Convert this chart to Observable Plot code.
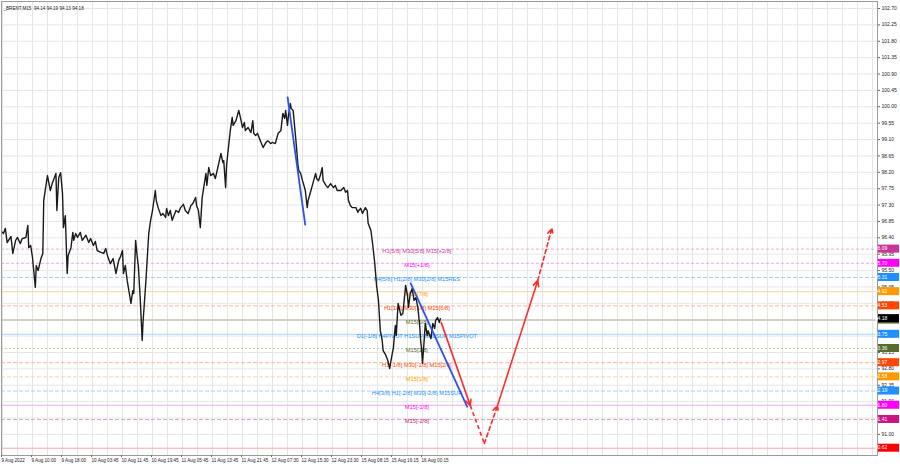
<!DOCTYPE html>
<html><head><meta charset="utf-8">
<script src="https://cdn.jsdelivr.net/npm/d3@7"></script>
<script src="https://cdn.jsdelivr.net/npm/@observablehq/plot@0.6"></script>
<style>
body{margin:0;background:#fff;}
#chart{width:900px;height:468px;}
</style>
</head><body><div id="chart"></div>
<script>
// ---------- data ----------
const title = "_BRENT,M15  94.14 94.19 94.13 94.18";
const lastPrice = 94.18;

// price path (M15 bar index, price)
const bars = [0,1,3,5,9,11,14,16,19,21,25,27,28,30,32,35,36,38,41,43,44,46,48,49,51,53,57,58,60,62,64,65,67,69,70,73,75,76,78,80,83,85,89,92,94,97,99,101,105,108,110,112,115,118,121,124,126,128,129,131,133,137,139,140,142,143,145,147,149,150,153,156,158,160,163,164,166,169,171,174,175,177,179,181,185,188,190,193,195,198,201,203,206,207,209,211,213,217,218,220,222,225,227,229,233,235,236,238,239,241,243,245,246,249,252,254,256,258,259,262,265,267,268,270,272,275,278,281,283,286,288,291,294,297,299,301,302,304,305,307,308,310,313,315,316,318,320,321,323,325,326,329,331,334,335,337,339,341,342,345,347,350,353,355,357,361,364,366,368,369,371,373,377,379,380,382,384,387,389,390,393,395,397,399,401,403,405,406,409,411,413,414,416,417,419,420,422,425,427,429,430,432,433,435,437,439,441,443,445,446,447,448,449,451,453,454,457,459,461,462,464,466,467];
const prices = [96.55,96.52,96.66,96.27,96.44,95.97,96.33,96.41,96.24,96.38,96.41,96.74,96.13,96.19,95.86,95.04,95.64,95.50,95.83,95.97,97.43,97.78,98.11,97.97,97.70,97.89,98.17,97.15,98.06,98.19,97.62,96.68,97.01,95.42,95.91,96.13,96.55,96.33,96.52,96.41,96.55,96.33,96.47,96.27,96.38,96.19,96.30,96.05,96.00,95.97,96.11,95.91,95.69,95.83,95.42,95.78,95.89,96.05,95.42,95.64,95.23,94.60,94.95,94.87,96.33,96.05,95.59,94.68,93.58,94.13,95.23,96.52,96.88,97.15,97.70,97.43,97.23,97.01,97.07,96.96,97.21,97.01,97.15,96.88,97.15,97.10,97.23,97.32,97.15,97.07,97.29,97.34,97.51,97.29,97.15,96.68,97.51,98.17,97.84,98.33,98.11,98.17,98.03,98.25,98.72,98.47,98.52,97.78,98.39,98.88,99.35,99.71,99.49,99.62,99.90,99.68,99.43,99.57,99.35,99.43,99.29,99.62,99.27,99.21,99.27,99.07,98.88,99.02,99.07,98.99,99.02,98.99,99.27,99.35,99.82,99.68,99.90,99.49,99.76,100.09,99.95,99.90,99.07,98.44,98.25,98.17,97.97,97.89,97.70,97.23,97.43,97.70,97.89,98.17,98.03,97.97,98.11,98.33,97.97,97.84,97.78,97.89,97.78,97.84,97.70,97.70,97.78,97.65,97.70,97.43,97.29,97.23,97.23,97.10,97.15,97.21,97.07,97.23,97.15,96.80,96.60,96.19,95.72,95.09,94.68,93.85,93.58,93.30,93.17,93.03,92.81,92.97,93.25,93.39,93.99,93.72,94.60,94.27,94.32,94.82,95.09,94.82,94.49,94.87,95.01,94.68,94.76,94.49,93.99,93.58,93.36,92.95,93.30,94.05,93.72,93.85,93.63,94.05,93.91,94.13,94.21,94.07,94.18];

// axis ticks
const yTicks = [102.70,102.25,101.80,101.35,100.90,100.45,100.00,99.55,99.10,98.65,98.20,97.75,97.30,96.85,96.40,95.95,95.50,95.05,94.60,94.15,93.70,93.25,92.80,92.35,91.90,91.45,91.00];
const xTickBars = [0,32,64,96,128,160,192,224,256,288,320,352,384,416,448];
const xTickLabels = ["9 Aug 2022","9 Aug 10:00","9 Aug 18:00","10 Aug 03:45","10 Aug 11:45","10 Aug 19:45","11 Aug 05:45","11 Aug 13:45","11 Aug 21:45","12 Aug 07:30","12 Aug 15:30","12 Aug 23:30","15 Aug 08:15","15 Aug 16:15","16 Aug 00:15"];

// Murrey-style levels
const levelPrices = [96.09,95.70,95.31,94.92,94.53,94.14,93.75,93.36,92.97,92.58,92.19,91.80,91.41,90.62];
const levelTexts = ["H1[5/8] M30[5/8] M15[+2/8]","M15[+1/8]","H4[5/8] H1[2/8] M30[2/8] M15RES","M15[7/8]","H1[1/8] M30[1/8] M15[6/8]","M15[5/8]","D1[-1/8] H4PIVOT H1SUP M30SUP M15PIVOT","M15[3/8]","H1[-1/8] M30[-1/8] M15[2/8]","M15[1/8]","H4[3/8] H1[-2/8] M30[-2/8] M15SUP","M15[-1/8]","M15[-2/8]",""];

// trend lines (blue) and projection (red)
const blueBars = [[304,323],[435,496]];
const bluePrices = [[100.28,96.74],[95.17,91.74]];
const projBars = [468,499,514,528,571,586];
const projPrices = [94.07,91.79,90.75,91.79,95.23,96.66];

// ---------- styles ----------
const levelBox = ["#cc3399","#ff00ff","#1e90ff","#ff9900","#ff4500","#556b2f","#1e90ff","#556b2f","#ff4500","#ff9900","#1e90ff","#ff00ff","#c71585","#ff0000"];
const levelLine = ["#e8a6d6","#f5a6f5","#a6cff5","#f8d4a6","#f7b49f","#d2d2c8","#a6d2fa","#c8c8b0","#f7b49f","#f8d4a6","#a6cff5","#f5a6f5","#dba6cc","#f7a6a6"];
const levelDash = ["3,2","3,2","4,2",null,"4,2",null,null,"2,2","4,2","4,2","4,2",null,"4,2",null];
const levelWidth = [1,1,1,1,1,2,1,1,1,1,1,1,1,1];
const projStyle = [
  {dash:null, head:true},{dash:"4,3", head:false},{dash:"4,3", head:true},
  {dash:null, head:true},{dash:"4,3", head:true}
];

// ---------- layout ----------
const W = 900, H = 468;
const mL = 1, mR = 23, mT = 1, mB = 13;
const pxPerBar = 0.9375, bar0px = 2;        // x: 32 bars per 30px
const pxPerUnit = 36.4, refPrice = 102.70, refPx = 8;
const xDomain = [(mL - bar0px) / pxPerBar, (W - mR - bar0px) / pxPerBar];
const yDomain = [refPrice - (H - mB - refPx) / pxPerUnit, refPrice + (refPx - mT) / pxPerUnit];
const labelBar = 442;

const pricePath = bars.map((b, i) => ({b, p: prices[i]}));
const levels = levelPrices.map((p, i) => ({p, t: levelTexts[i], i}));
const gridBars = d3.range(0, xDomain[1], 16);

const marks = [
  Plot.ruleY(yTicks, {y: d => d, stroke: "#e6e6e6", strokeWidth: 1}),
  Plot.ruleX(gridBars, {x: d => d, stroke: "#e6e6e6", strokeWidth: 1}),
];
levels.forEach(l => {
  marks.push(Plot.ruleY([l], {y: "p", stroke: levelLine[l.i], strokeWidth: levelWidth[l.i], strokeDasharray: levelDash[l.i] || undefined}));
});
marks.push(
  Plot.text(levels.filter(d => d.t), {x: () => labelBar, y: "p", text: "t", fill: d => levelBox[d.i], fontSize: 5.7, dy: 2, textAnchor: "middle"}),
  Plot.line(pricePath, {x: "b", y: "p", stroke: "#1a1a1a", strokeWidth: 1.4, curve: "linear"}),
  Plot.link(blueBars.map((b, i) => ({x1: b[0], x2: b[1], y1: bluePrices[i][0], y2: bluePrices[i][1]})), {x1: "x1", x2: "x2", y1: "y1", y2: "y2", stroke: "#2a52f0", strokeWidth: 1.8})
);
projStyle.forEach((s, i) => {
  const seg = [{x1: projBars[i], x2: projBars[i+1], y1: projPrices[i], y2: projPrices[i+1]}];
  const opts = {x1: "x1", x2: "x2", y1: "y1", y2: "y2", stroke: "#ff2a2a", strokeWidth: 1.6};
  if (s.dash) opts.strokeDasharray = s.dash;
  if (s.head) marks.push(Plot.arrow(seg, {...opts, headLength: 6, headAngle: 50}));
  else marks.push(Plot.link(seg, opts));
});
marks.push(
  Plot.frame({stroke: "#9a9a9a", strokeWidth: 1}),
  Plot.axisY(yTicks, {anchor: "right", tickSize: 2, tickPadding: 2, fontSize: 5, tickFormat: d => d.toFixed(2), stroke: "#666"}),
  Plot.axisX(xTickBars, {anchor: "bottom", tickSize: 2, tickPadding: 1, fontSize: 4.6, textAnchor: "start", dx: -1, tickFormat: d => xTickLabels[xTickBars.indexOf(d)], stroke: "#666"}),
  Plot.text([title], {frameAnchor: "top-left", dx: 2, dy: 5, fontSize: 4.6, fill: "#222"})
);

const plot = Plot.plot({
  width: W, height: H,
  marginLeft: mL, marginRight: mR, marginTop: mT, marginBottom: mB,
  x: {domain: xDomain, axis: null},
  y: {domain: yDomain, axis: null},
  style: {fontFamily: "'Liberation Sans', Arial, sans-serif", background: "#fff", color: "#222"},
  marks
});
document.getElementById("chart").appendChild(plot);

// price boxes in the right margin, positioned with Plot's y scale
const ys = plot.scale("y");
const svg = d3.select(plot);
const g = svg.append("g").style("font-family", "'Liberation Sans', Arial, sans-serif").style("font-size", "5px");
const boxX = W - mR + 1, boxW = mR - 2, boxH = 8;
const boxes = levels.map(l => ({p: l.p, c: levelBox[l.i]})).concat([{p: lastPrice, c: "#000"}]);
boxes.forEach(b => {
  const yy = ys.apply(b.p);
  g.append("rect").attr("x", boxX).attr("y", yy - boxH/2).attr("width", boxW).attr("height", boxH).attr("fill", b.c);
  g.append("text").attr("x", boxX + 3).attr("y", yy).attr("dy", "0.35em").attr("fill", "#fff").style("font-size", "5px").text(b.p.toFixed(2));
});
</script>
</body></html>
